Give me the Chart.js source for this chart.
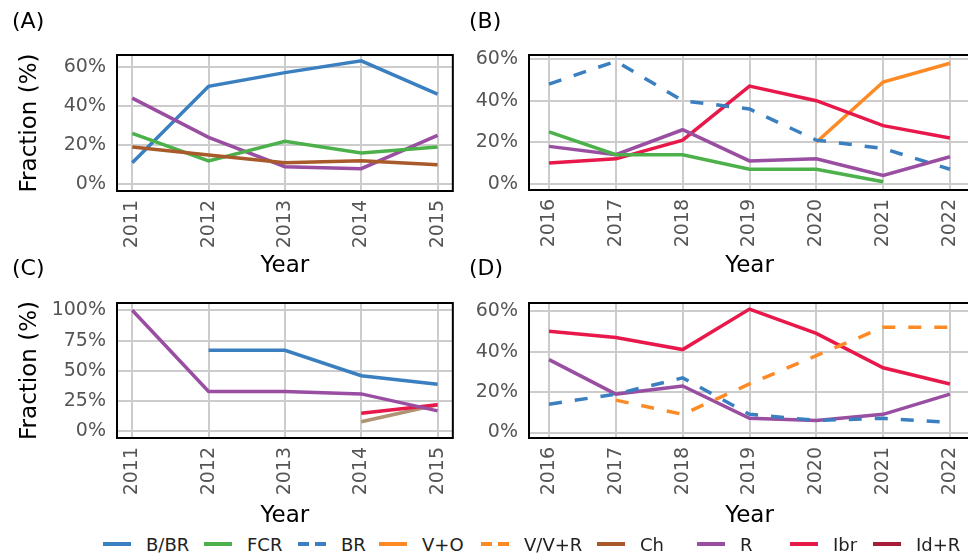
<!DOCTYPE html>
<html>
<head>
<meta charset="utf-8">
<script src="https://cdn.jsdelivr.net/npm/chart.js@4.4.0/dist/chart.umd.min.js"></script>
<style>
  html, body { margin: 0; padding: 0; background: #fff; overflow: hidden; }
  #wrap { position: relative; width: 968px; height: 554px; overflow: hidden; font-family: "DejaVu Sans", sans-serif; }
  canvas { position: absolute; }
  .tag { position: absolute; font-size: 22px; line-height: 1; color: #000; }
  .leg { position: absolute; top: 533px; height: 22px; display: flex; align-items: center; font-size: 18px; color: #222; white-space: nowrap; }
  .leg svg { margin-right: 15px; }
</style>
</head>
<body>
<div id="wrap">
  <canvas id="chartA" width="470" height="280" style="left:0;top:0"></canvas>
  <canvas id="chartB" width="530" height="280" style="left:460px;top:0"></canvas>
  <canvas id="chartC" width="470" height="250" style="left:0;top:280px"></canvas>
  <canvas id="chartD" width="530" height="250" style="left:460px;top:280px"></canvas>
  <div class="tag" style="left:12px;top:10px">(A)</div>
  <div class="tag" style="left:469px;top:10px">(B)</div>
  <div class="tag" style="left:12px;top:257px">(C)</div>
  <div class="tag" style="left:469px;top:257px">(D)</div>
</div>
<script>
// years
const yearsEarly = [2011, 2012, 2013, 2014, 2015];
const yearsLate = [2016, 2017, 2018, 2019, 2020, 2021, 2022];

// y ticks
const ticksSixty = [0, 20, 40, 60];
const ticksHundred = [0, 25, 50, 75, 100];

// (A) 2011-2015
const aBBR = [11, 50, 57, 63, 46];
const aFCR = [26, 12, 22, 16, 19];
const aCh  = [19, 15, 11, 12, 10];
const aR   = [44, 24, 9, 8, 25];

// (B) 2016-2022
const bBR  = [48, 59, 40, 36, 21, 17, 7];
const bVO  = [null, null, null, null, 20, 49, 58];
const bIbr = [10, 12, 21, 47, 40, 28, 22];
const bR   = [18, 14, 26, 11, 12, 4, 13];
const bFCR = [25, 14, 14, 7, 7, 1, null];

// (C) 2011-2015
const cBBR = [null, 67, 67, 46, 39];
const cR   = [100, 33, 33, 31, 17];
const cIbr = [null, null, null, 15, 22];
const cCh  = [null, null, null, 8, 22];

// (D) 2016-2022
const dIbr = [50, 47, 41, 61, 49, 32, 24];
const dR   = [36, 19, 23, 7, 6, 9, 19];
const dBR  = [14, 19, 27, 9, 6, 7, 5];
const dVVR = [null, 16, 9, 24, 38, 52, 52];

// legend
const legendLabels = ['B/BR', 'FCR', 'BR', 'V+O', 'V/V+R', 'Ch', 'R', 'Ibr', 'Id+R'];
const legendColors = ['#3a7fc0', '#4cb14a', '#3a7fc0', '#fd8a25', '#fd8a25', '#a85a2a', '#994ea1', '#e8194a', '#a71c38'];
const legendDashed = [false, false, true, false, true, false, false, false, false];

const C = {
  blue: '#3a7fc0', green: '#4cb14a', orange: '#fd8a25', brown: '#a85a2a',
  purple: '#994ea1', red: '#e8194a', tan: '#b09373'
};
const DASH = [13, 13];

function series(label, years, vals, color, dashed) {
  return {
    label,
    data: years.map((x, i) => ({ x, y: vals[i] })),
    borderColor: color,
    backgroundColor: color,
    borderWidth: 3.5,
    borderDash: dashed ? DASH : [],
    pointRadius: 0,
    tension: 0,
    fill: false,
    spanGaps: false
  };
}

const framePlugin = {
  id: 'frame',
  afterDatasetsDraw(chart) {
    const { ctx, chartArea: a } = chart;
    ctx.save();
    ctx.strokeStyle = '#000';
    ctx.lineWidth = 2;
    ctx.strokeRect(a.left, a.top, a.right - a.left, a.bottom - a.top);
    ctx.restore();
  }
};

const tickFont = { family: 'DejaVu Sans', size: 19 };
const titleFont = { family: 'DejaVu Sans', size: 23 };

function makePanel(id, opts) {
  const { years, yTicks, yMin, yMax, xMin, xMax, datasets, yWidth, xHeight, padTop, padRight, yTitle } = opts;
  new Chart(document.getElementById(id), {
    type: 'line',
    data: { datasets },
    plugins: [framePlugin],
    options: {
      responsive: false,
      animation: false,
      layout: { padding: { top: padTop, right: padRight, left: 0, bottom: 0 } },
      plugins: { legend: { display: false }, tooltip: { enabled: false } },
      scales: {
        x: {
          type: 'linear',
          min: xMin,
          max: xMax,
          afterBuildTicks: s => { s.ticks = years.map(v => ({ value: v })); },
          afterFit: s => { s.height = xHeight; },
          ticks: {
            minRotation: 90, maxRotation: 90, autoSkip: false, padding: 9,
            color: '#555', font: tickFont,
            callback: v => String(v)
          },
          grid: { color: '#cccccc', lineWidth: 2, drawTicks: false },
          border: { display: false },
          title: { display: true, text: 'Year', color: '#000', font: titleFont, padding: { top: 0, bottom: 0 } }
        },
        y: {
          min: yMin,
          max: yMax,
          afterBuildTicks: s => { s.ticks = yTicks.map(v => ({ value: v })); },
          afterFit: s => { s.width = yWidth; },
          ticks: { padding: 11, color: '#555', font: tickFont, callback: v => v + '%' },
          grid: { color: '#cccccc', lineWidth: 2, drawTicks: false },
          border: { display: false },
          title: { display: !!yTitle, text: yTitle || '', color: '#000', font: titleFont, padding: { top: 16, bottom: 0 } }
        }
      }
    }
  });
}

makePanel('chartA', {
  years: yearsEarly, yTicks: ticksSixty, yMin: -3.4, yMax: 66, xMin: 2010.8, xMax: 2015.2,
  yWidth: 117, xHeight: 89, padTop: 55, padRight: 14, yTitle: 'Fraction (%)',
  datasets: [
    series('Ch', yearsEarly, aCh, C.brown),
    series('FCR', yearsEarly, aFCR, C.green),
    series('R', yearsEarly, aR, C.purple),
    series('B/BR', yearsEarly, aBBR, C.blue)
  ]
});

makePanel('chartB', {
  years: yearsLate, yTicks: ticksSixty, yMin: -3.0, yMax: 62, xMin: 2015.7, xMax: 2022.3,
  yWidth: 69, xHeight: 90, padTop: 55, padRight: 20, yTitle: null,
  datasets: [
    series('FCR', yearsLate, bFCR, C.green),
    series('R', yearsLate, bR, C.purple),
    series('BR', yearsLate, bBR, C.blue, true),
    series('Ibr', yearsLate, bIbr, C.red),
    series('V+O', yearsLate, bVO, C.orange)
  ]
});

makePanel('chartC', {
  years: yearsEarly, yTicks: ticksHundred, yMin: -5.4, yMax: 106, xMin: 2010.8, xMax: 2015.2,
  yWidth: 117, xHeight: 92, padTop: 23, padRight: 14, yTitle: 'Fraction (%)',
  datasets: [
    series('R', yearsEarly, cR, C.purple),
    series('B/BR', yearsEarly, cBBR, C.blue),
    series('Ibr', yearsEarly, cIbr, C.red),
    series('Ch', yearsEarly, cCh, C.tan)
  ]
});

makePanel('chartD', {
  years: yearsLate, yTicks: ticksSixty, yMin: -2.7, yMax: 64, xMin: 2015.7, xMax: 2022.3,
  yWidth: 69, xHeight: 92, padTop: 23, padRight: 20, yTitle: null,
  datasets: [
    series('V/V+R', yearsLate, dVVR, C.orange, true),
    series('BR', yearsLate, dBR, C.blue, true),
    series('R', yearsLate, dR, C.purple),
    series('Ibr', yearsLate, dIbr, C.red)
  ]
});

// shared legend along the bottom
const legendLeft = [103, 204, 298, 379, 481, 597, 697, 790, 873];
const wrap = document.getElementById('wrap');
legendLabels.forEach((label, i) => {
  const item = document.createElement('div');
  item.className = 'leg';
  item.style.left = legendLeft[i] + 'px';
  const dash = legendDashed[i] ? 'stroke-dasharray="11,6"' : '';
  item.innerHTML =
    `<svg width="28" height="6"><line x1="0" y1="3" x2="28" y2="3" stroke="${legendColors[i]}" stroke-width="4" ${dash}/></svg>` +
    `<span>${label}</span>`;
  wrap.appendChild(item);
});
</script>
</body>
</html>
